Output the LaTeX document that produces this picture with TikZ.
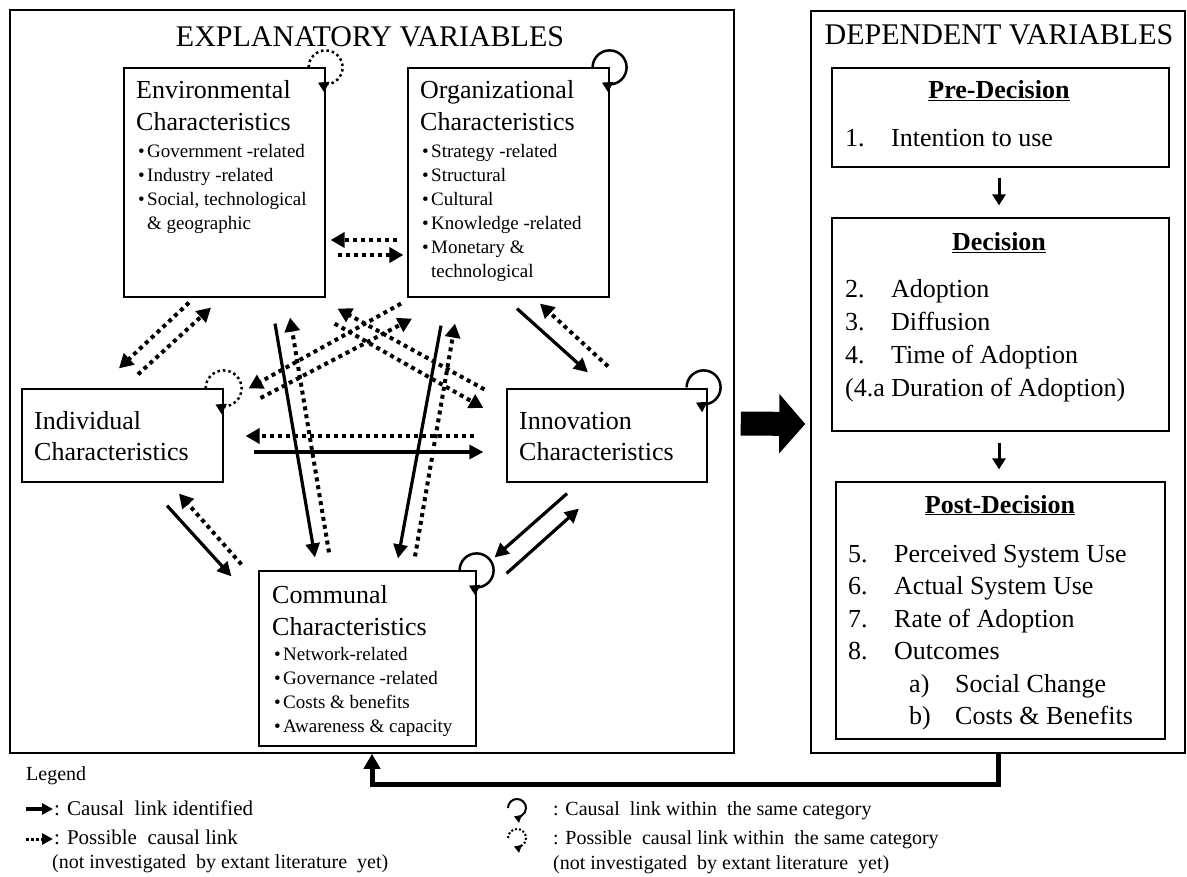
\documentclass[tikz,border=0pt]{standalone}
\usepackage{fontspec}
\setmainfont{Liberation Serif}
\usetikzlibrary{arrows.meta}

\newcommand{\fs}[2]{\fontsize{#1}{#2}\selectfont}
\newcommand{\itm}{\hspace*{2pt}\makebox[9pt][l]{\textbullet}}
\newcommand{\cont}{\hspace*{11pt}}

\tikzset{
  box/.style={draw, line width=1.2pt, inner sep=0pt},
  panel/.style={draw, line width=1.5pt, inner sep=0pt},
  txt/.style={inner sep=0pt, anchor=base west},
  causal/.style={line width=3.2pt, -{Triangle[length=14pt,width=14pt]}},
  possible/.style={line width=4pt, dash pattern=on 4pt off 4pt, -{Triangle[length=14pt,width=15pt]}},
  selfcausal/.style={line width=2.5pt, -{Triangle[length=10pt,width=11pt]}},
  selfpossible/.style={line width=2.5pt, dash pattern=on 2.5pt off 3pt, -{Triangle[length=10pt,width=11pt]}},
  flow/.style={line width=3pt, -{Triangle[length=11pt,width=13pt]}},
  feedback/.style={line width=5pt, -{Triangle[length=15pt,width=16pt]}},
  bigarrow/.style={line width=24pt, -{Triangle[length=26pt,width=58pt]}},
}

\begin{document}
\begin{tikzpicture}[x=1pt, y=-1pt]
\useasboundingbox (0,0) rectangle (1187,877);

% panels
\node[panel, minimum width=724pt, minimum height=743pt] (expl) at (372,381.5) {};
\node[panel, minimum width=374pt, minimum height=742pt] (dep) at (998,382) {};
\node[txt, anchor=base] (expltitle) at (370,47) {\fs{30}{36}EXPLANATORY VARIABLES};
\node[txt, anchor=base] (deptitle) at (999,45) {\fs{30}{36}DEPENDENT VARIABLES};

% explanatory boxes
\node[box, minimum width=201pt, minimum height=229pt] (env) at (224.5,182.5) {};
\node[box, minimum width=201pt, minimum height=229pt] (org) at (508.5,182.5) {};
\node[box, minimum width=201pt, minimum height=93pt] (ind) at (122.5,435.5) {};
\node[box, minimum width=200pt, minimum height=93pt] (inn) at (607,435.5) {};
\node[box, minimum width=217pt, minimum height=175pt] (com) at (367.5,658.5) {};

\node[txt] (envtext) at (136,99) {\parbox[t]{190pt}{\raggedright\fs{26}{32}Environmental\\Characteristics\par
  \vspace{3pt}\fs{19}{24}\itm Government -related\\\itm Industry -related\\\itm Social, technological\\\cont\& geographic}};
\node[txt] (orgtext) at (420,99) {\parbox[t]{190pt}{\raggedright\fs{26}{32}Organizational\\Characteristics\par
  \vspace{3pt}\fs{19}{24}\itm Strategy -related\\\itm Structural\\\itm Cultural\\\itm Knowledge -related\\\itm Monetary \&\\\cont technological}};
\node[txt] (indtext) at (34,429) {\parbox[t]{190pt}{\raggedright\fs{26}{32}Individual\\Characteristics}};
\node[txt] (inntext) at (519,429) {\parbox[t]{190pt}{\raggedright\fs{26}{32}Innovation\\Characteristics}};
\node[txt] (comtext) at (272,603) {\parbox[t]{200pt}{\raggedright\fs{26}{32}Communal\\Characteristics\par
  \vspace{1.5pt}\fs{19}{24}\itm Network-related\\\itm Governance -related\\\itm Costs \& benefits\\\itm Awareness \& capacity}};

% dependent boxes
\node[box, minimum width=337pt, minimum height=99pt] (pre) at (1000.5,117.5) {};
\node[box, minimum width=337pt, minimum height=213pt] (dec) at (1000.5,324.5) {};
\node[box, minimum width=329pt, minimum height=257pt] (post) at (1000.5,610.5) {};

\node[txt, anchor=base] (pretitle) at (999,99) {\fs{26}{32}\bfseries\underline{Pre-Decision}};
\node[txt] (pretext) at (845,146.5) {\fs{26}{32}\makebox[46pt][l]{1.}Intention to use};
\node[txt, anchor=base] (dectitle) at (999,251) {\fs{26}{32}\bfseries\underline{Decision}};
\node[txt] (dectext) at (845,298) {\parbox[t]{320pt}{\raggedright\fs{26}{33}\makebox[46pt][l]{2.}Adoption\\
  \makebox[46pt][l]{3.}Diffusion\\\makebox[46pt][l]{4.}Time of Adoption\\(4.a Duration of Adoption)}};
\node[txt, anchor=base] (posttitle) at (1000,513) {\fs{26}{32}\bfseries\underline{Post-Decision}};
\node[txt] (posttext) at (848,562) {\parbox[t]{310pt}{\raggedright\fs{26}{32.5}\makebox[46pt][l]{5.}Perceived System Use\\
  \makebox[46pt][l]{6.}Actual System Use\\\makebox[46pt][l]{7.}Rate of Adoption\\\makebox[46pt][l]{8.}Outcomes\\
  \hspace*{61pt}\makebox[46pt][l]{a)}Social Change\\\hspace*{61pt}\makebox[46pt][l]{b)}Costs \& Benefits}};

% env <-> org
\draw[possible] ([shift={(-10,57.5)}]org.west) -- ([shift={(5,57.5)}]env.east);
\draw[possible] ([shift={(12,72.5)}]env.east) -- ([shift={(-4,72.5)}]org.west);
% env <-> ind
\draw[possible] ([shift={(-35.5,5)}]env.south) -- ([shift={(-3.5,-20)}]ind.north);
\draw[possible] ([shift={(15.5,-14)}]ind.north) -- ([shift={(-13.5,10)}]env.south);
% env <-> com
\draw[causal] ([shift={(50.5,26)}]env.south) -- ([shift={(-52.5,-13)}]com.north);
\draw[possible] ([shift={(-38.5,-18)}]com.north) -- ([shift={(65.5,20)}]env.south);
% org <-> com
\draw[causal] ([shift={(-67.5,28)}]org.south) -- ([shift={(30.5,-12)}]com.north);
\draw[possible] ([shift={(47.5,-14)}]com.north) -- ([shift={(-53.5,26)}]org.south);
% org <-> ind
\draw[possible] ([shift={(-107.5,6)}]org.south) -- ([shift={(25,0)}]ind.north east);
\draw[possible] ([shift={(37,-37.5)}]ind.east) -- ([shift={(-96.5,21)}]org.south);
% env <-> inn
\draw[possible] ([shift={(-22,1)}]inn.north west) -- ([shift={(12,11)}]env.south east);
\draw[possible] ([shift={(9,26)}]env.south east) -- ([shift={(-23,-27.5)}]inn.west);
% org <-> inn
\draw[causal] ([shift={(8.5,11)}]org.south) -- ([shift={(-19,-16)}]inn.north);
\draw[possible] ([shift={(1,-22)}]inn.north) -- ([shift={(31.5,6)}]org.south);
% ind <-> inn
\draw[possible] ([shift={(-32,0.5)}]inn.west) -- ([shift={(22,0.5)}]ind.east);
\draw[causal] ([shift={(30,16.5)}]ind.east) -- ([shift={(-23,16.5)}]inn.west);
% ind <-> com
\draw[causal] ([shift={(44.5,23)}]ind.south) -- ([shift={(-27,6)}]com.north west);
\draw[possible] ([shift={(-17,-6)}]com.north west) -- ([shift={(56.5,11)}]ind.south);
% inn <-> com
\draw[causal] ([shift={(-40,11)}]inn.south) -- ([shift={(18,-13)}]com.north east);
\draw[causal] ([shift={(30,3)}]com.north east) -- ([shift={(-28,26)}]inn.south);

% links within a category
\draw[selfpossible] ([shift={(-17,0)}]env.north east) arc[start angle=180, end angle=-117, radius=17pt];
\draw[selfcausal] ([shift={(-17,0)}]org.north east) arc[start angle=180, end angle=-117, radius=17pt];
\draw[selfpossible] ([shift={(-18,0)}]ind.north east) arc[start angle=180, end angle=-117, radius=18pt];
\draw[selfcausal] ([shift={(-21,-1)}]inn.north east) arc[start angle=180, end angle=-117, radius=17pt];
\draw[selfcausal] ([shift={(-17,0)}]com.north east) arc[start angle=180, end angle=-117, radius=17pt];

% dependent flow
\draw[flow] ([shift={(-1.5,10)}]pre.south) -- ([shift={(-1.5,-12)}]dec.north);
\draw[flow] ([shift={(-1.5,11)}]dec.south) -- ([shift={(-1.5,-12)}]post.north);
\draw[bigarrow] ([shift={(6,42)}]expl.east) -- ([shift={(-5,42)}]dep.west);
\draw[feedback] (dep.south) -- ++(0,31) -| (expl.south);

% legend
\node[txt] (legend) at (26,780) {\fs{20}{22}Legend};
\coordinate (lca) at (26,809); \coordinate (lcb) at (53,809);
\coordinate (lpa) at (26,839); \coordinate (lpb) at (53,839);
\draw[causal, -{Triangle[length=11pt,width=11pt]}] (lca) -- (lcb);
\draw[possible, line width=3pt, dash pattern=on 3pt off 2pt, -{Triangle[length=11pt,width=11pt]}] (lpa) -- (lpb);
\node[txt] (lctext) at (54,815) {\fs{21}{22}: Causal\ \ link identified};
\node[txt] (lptext) at (54,844) {\fs{21}{22}: Possible\ \ causal link};
\node[txt] (lpnote) at (52,868) {\fs{20}{22}(not investigated\ \ by extant literature\ \ yet)};
\coordinate (lsc) at (517,808); \coordinate (lsp) at (517,838);
\draw[selfcausal, line width=2pt, -{Triangle[length=7pt,width=8pt]}] ([shift={(-9,0)}]lsc) arc[start angle=180, end angle=-110, radius=9pt];
\draw[selfpossible, line width=2pt, dash pattern=on 2pt off 2pt, -{Triangle[length=7pt,width=8pt]}] ([shift={(-9,0)}]lsp) arc[start angle=180, end angle=-110, radius=9pt];
\node[txt] (lsctext) at (553,815) {\fs{20}{22}: Causal\ \ link within\ \ the same category};
\node[txt] (lsptext) at (553,844) {\fs{20}{22}: Possible\ \ causal link within\ \ the same category};
\node[txt] (lsnote) at (553,869) {\fs{20}{22}(not investigated\ \ by extant literature\ \ yet)};
\end{tikzpicture}
\end{document}
